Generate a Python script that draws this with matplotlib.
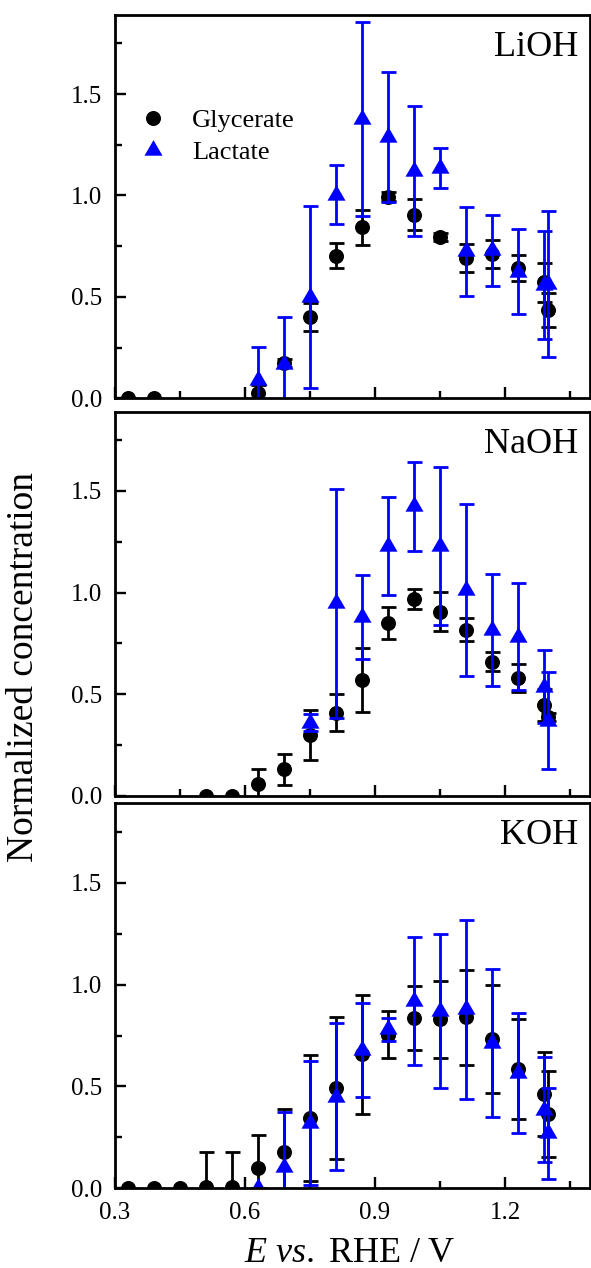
import matplotlib
matplotlib.use("Agg")
import matplotlib.pyplot as plt
import numpy as np
from matplotlib.lines import Line2D
from matplotlib.ticker import MultipleLocator, FormatStrFormatter

plt.rcParams['font.family'] = ['Liberation Serif', 'DejaVu Serif']
plt.rcParams['mathtext.fontset'] = 'custom'
plt.rcParams['mathtext.rm'] = 'Liberation Serif'
plt.rcParams['mathtext.it'] = 'Liberation Serif:italic'

# ---- data ----
panel_names = ["LiOH", "NaOH", "KOH"]

lioh_gly_x = [0.33, 0.39, 0.63, 0.69, 0.75, 0.81, 0.87, 0.93, 0.99, 1.05, 1.11, 1.17, 1.23, 1.29, 1.30]
lioh_gly_y = [0, 0, 0.025, 0.176, 0.40, 0.704, 0.844, 0.995, 0.905, 0.795, 0.691, 0.711, 0.642, 0.573, 0.436]
lioh_gly_e = [0, 0, 0.04, 0.02, 0.07, 0.063, 0.086, 0.02, 0.077, 0.02, 0.069, 0.07, 0.063, 0.096, 0.084]
lioh_lac_x = [0.63, 0.69, 0.75, 0.81, 0.87, 0.93, 0.99, 1.05, 1.11, 1.17, 1.23, 1.29, 1.30]
lioh_lac_y = [0.09, 0.17, 0.50, 1.004, 1.377, 1.29, 1.119, 1.135, 0.724, 0.73, 0.625, 0.56, 0.563]
lioh_lac_e = [0.165, 0.23, 0.447, 0.144, 0.48, 0.32, 0.32, 0.10, 0.22, 0.175, 0.21, 0.267, 0.36]

naoh_gly_x = [0.51, 0.57, 0.63, 0.69, 0.75, 0.81, 0.87, 0.93, 0.99, 1.05, 1.11, 1.17, 1.23, 1.29, 1.30]
naoh_gly_y = [0, 0, 0.057, 0.131, 0.30, 0.409, 0.57, 0.849, 0.969, 0.906, 0.816, 0.66, 0.578, 0.447, 0.386]
naoh_gly_e = [0, 0, 0.075, 0.076, 0.122, 0.092, 0.156, 0.08, 0.05, 0.097, 0.057, 0.045, 0.07, 0.08, 0.02]
naoh_lac_x = [0.75, 0.81, 0.87, 0.93, 0.99, 1.05, 1.11, 1.17, 1.23, 1.29, 1.30]
naoh_lac_y = [0.36, 0.947, 0.878, 1.23, 1.424, 1.23, 1.013, 0.816, 0.783, 0.537, 0.37]
naoh_lac_e = [0.043, 0.565, 0.207, 0.24, 0.218, 0.39, 0.423, 0.275, 0.263, 0.18, 0.24]

koh_gly_x = [0.33, 0.39, 0.45, 0.51, 0.57, 0.63, 0.69, 0.75, 0.81, 0.87, 0.93, 0.99, 1.05, 1.11, 1.17, 1.23, 1.29, 1.30]
koh_gly_y = [0, 0, 0, 0.008, 0.008, 0.10, 0.18, 0.345, 0.493, 0.657, 0.755, 0.837, 0.829, 0.84, 0.731, 0.586, 0.463, 0.365]
koh_gly_e = [0, 0, 0, 0.17, 0.17, 0.16, 0.21, 0.307, 0.347, 0.29, 0.116, 0.158, 0.19, 0.233, 0.265, 0.245, 0.207, 0.213]
koh_lac_x = [0.63, 0.69, 0.75, 0.81, 0.87, 0.93, 0.99, 1.05, 1.11, 1.17, 1.23, 1.29, 1.30]
koh_lac_y = [0, 0.103, 0.32, 0.45, 0.678, 0.78, 0.92, 0.87, 0.878, 0.714, 0.566, 0.386, 0.27]
koh_lac_e = [0, 0.27, 0.305, 0.36, 0.23, 0.055, 0.315, 0.38, 0.44, 0.365, 0.295, 0.257, 0.224]

panels = [
    (lioh_gly_x, lioh_gly_y, lioh_gly_e, lioh_lac_x, lioh_lac_y, lioh_lac_e),
    (naoh_gly_x, naoh_gly_y, naoh_gly_e, naoh_lac_x, naoh_lac_y, naoh_lac_e),
    (koh_gly_x, koh_gly_y, koh_gly_e, koh_lac_x, koh_lac_y, koh_lac_e),
]

# equilateral triangle marker
tri = [(-1.0, -0.577), (1.0, -0.577), (0.0, 1.155), (-1.0, -0.577)]
BLUE = '#0000FF'

W, H = 591, 1268
fig = plt.figure(figsize=(W / 100, H / 100), dpi=100)

boxes = [(15, 398.3), (411.7, 795.7), (803.3, 1188.3)]
left_px, right_px = 115, 590

axes = []
for i, (top, bot) in enumerate(boxes):
    ax = fig.add_axes([left_px / W, 1 - bot / H, (right_px - left_px) / W, (bot - top) / H])
    axes.append(ax)
    gx, gy, ge, lx, ly, le = panels[i]
    ax.errorbar(gx, gy, yerr=ge, fmt='none', ecolor='black', elinewidth=2,
                capsize=5.4, capthick=2)
    ax.plot(gx, gy, linestyle='none', marker='o', ms=10.8, color='black', mew=0)
    ax.errorbar(lx, ly, yerr=le, fmt='none', ecolor=BLUE, elinewidth=2,
                capsize=5.4, capthick=2)
    ax.plot(lx, ly, linestyle='none', marker=tri, ms=15, color=BLUE, mew=0)
    ax.set_xlim(0.3, 1.396)
    ax.set_ylim(0, 1.89)
    ax.xaxis.set_major_locator(MultipleLocator(0.3))
    ax.xaxis.set_minor_locator(MultipleLocator(0.15))
    ax.yaxis.set_major_locator(MultipleLocator(0.5))
    ax.yaxis.set_minor_locator(MultipleLocator(0.25))
    ax.tick_params(which='both', direction='in', width=1.7, top=False, right=False,
                   labelsize=18)
    ax.tick_params(which='major', length=8)
    ax.tick_params(which='minor', length=5)
    ax.tick_params(axis='y', which='major', pad=9)
    ax.tick_params(axis='x', which='major', pad=10)
    ax.yaxis.set_major_formatter(FormatStrFormatter('%.1f'))
    ax.xaxis.set_major_formatter(FormatStrFormatter('%.1f'))
    for s in ax.spines.values():
        s.set_linewidth(2)
    if i < 2:
        ax.tick_params(axis='x', labelbottom=False)
    ax.text(0.975, 0.893, panel_names[i], transform=ax.transAxes, ha='right',
            va='baseline', fontsize=26)

handles = [Line2D([], [], linestyle='none', marker='o', color='black', ms=10.8, mew=0),
           Line2D([], [], linestyle='none', marker=tri, color=BLUE, ms=15, mew=0)]
axes[0].legend(handles, ["Glycerate", "Lactate"], loc='center left',
               bbox_to_anchor=(0.0526, 0.684), frameon=False, fontsize=19,
               handlelength=1.0, handletextpad=0.97, labelspacing=0.33, borderpad=0,
               borderaxespad=0)

fig.text(24 / W, 601 / H, "Normalized concentration", rotation=90, ha='center',
         va='center', fontsize=27)
fig.text(350 / W, 1 - 1262 / H, r"$\mathit{E}\ \mathit{vs.}\ \mathrm{RHE\ /\ V}$",
         ha='center', va='baseline', fontsize=26)

fig.savefig("out.png", dpi=100)
